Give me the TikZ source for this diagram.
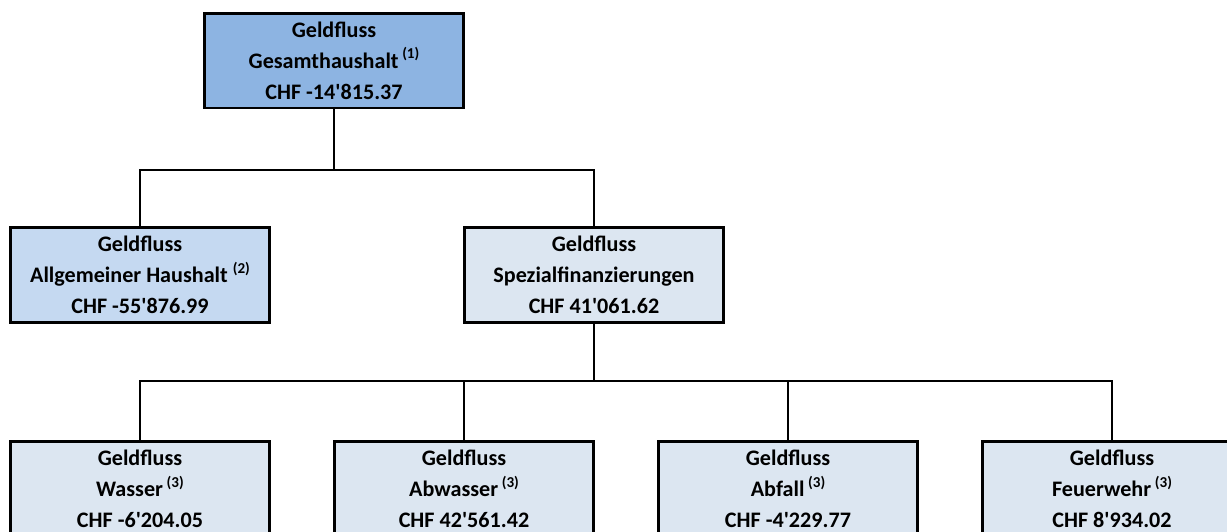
\documentclass[tikz,border=0pt]{standalone}
\usepackage{fontspec}
\setmainfont{Carlito}
\usepackage{xcolor}
\usetikzlibrary{positioning}
\definecolor{topblue}{RGB}{141,180,226}
\definecolor{midblue}{RGB}{197,217,241}
\definecolor{paleblue}{RGB}{220,230,241}
\newcommand{\fn}[1]{\raisebox{0.42em}{\fontsize{8.6}{8.6}\selectfont(#1)}}
\newcommand{\ap}{\textquotesingle}

\begin{document}
\begin{tikzpicture}[x=0.02cm, y=-0.02cm,
		flowbox/.style={
			draw,
			line width=1.7pt,
			minimum width=5.2cm,
			minimum height=1.9cm,
			align=center,
			font=\fontsize{12.6}{17.6}\selectfont\bfseries
		}, link/.style={line width=1.1pt}]
		\useasboundingbox (0,0) rectangle (1227,531);
		
		\node[flowbox, fill=topblue] (gesamt) at (334,60.5) {Geldfluss\\Gesamthaushalt\,\fn{1}\\CHF -14\ap 815.37};
		
		\node[flowbox, fill=midblue] (allg) at (140,275) {Geldfluss\\Allgemeiner Haushalt \fn{2}\\CHF -55\ap 876.99};
		\node[flowbox, fill=paleblue] (spez) at (594,275) {Geldfluss\\Spezialfinanzierungen\\CHF 41\ap 061.62};
		
		\node[flowbox, fill=paleblue] (wasser) at (140,489) {Geldfluss\\Wasser\,\fn{3}\\CHF -6\ap 204.05};
		\node[flowbox, fill=paleblue] (abwasser) at (464,489) {Geldfluss\\Abwasser\,\fn{3}\\CHF 42\ap 561.42};
		\node[flowbox, fill=paleblue] (abfall) at (788,489) {Geldfluss\\Abfall\,\fn{3}\\CHF -4\ap 229.77};
		\node[flowbox, fill=paleblue] (feuer) at (1112,489) {Geldfluss\\Feuerwehr\,\fn{3}\\CHF 8\ap 934.02};
		
		% branch points
		\coordinate (split1) at (334,170);
		\coordinate (split2) at (594,381);
		
		\draw[link] (gesamt.south) -- (split1);
		\draw[link] (allg.north) |- (split1) -| (spez.north);
		
		\draw[link] (spez.south) -- (split2);
		\draw[link] (wasser.north) |- (split2) -| (feuer.north);
		\draw[link] (abwasser.north) -- (abwasser.north |- split2);
		\draw[link] (abfall.north) -- (abfall.north |- split2);
	\end{tikzpicture}
\end{document}
